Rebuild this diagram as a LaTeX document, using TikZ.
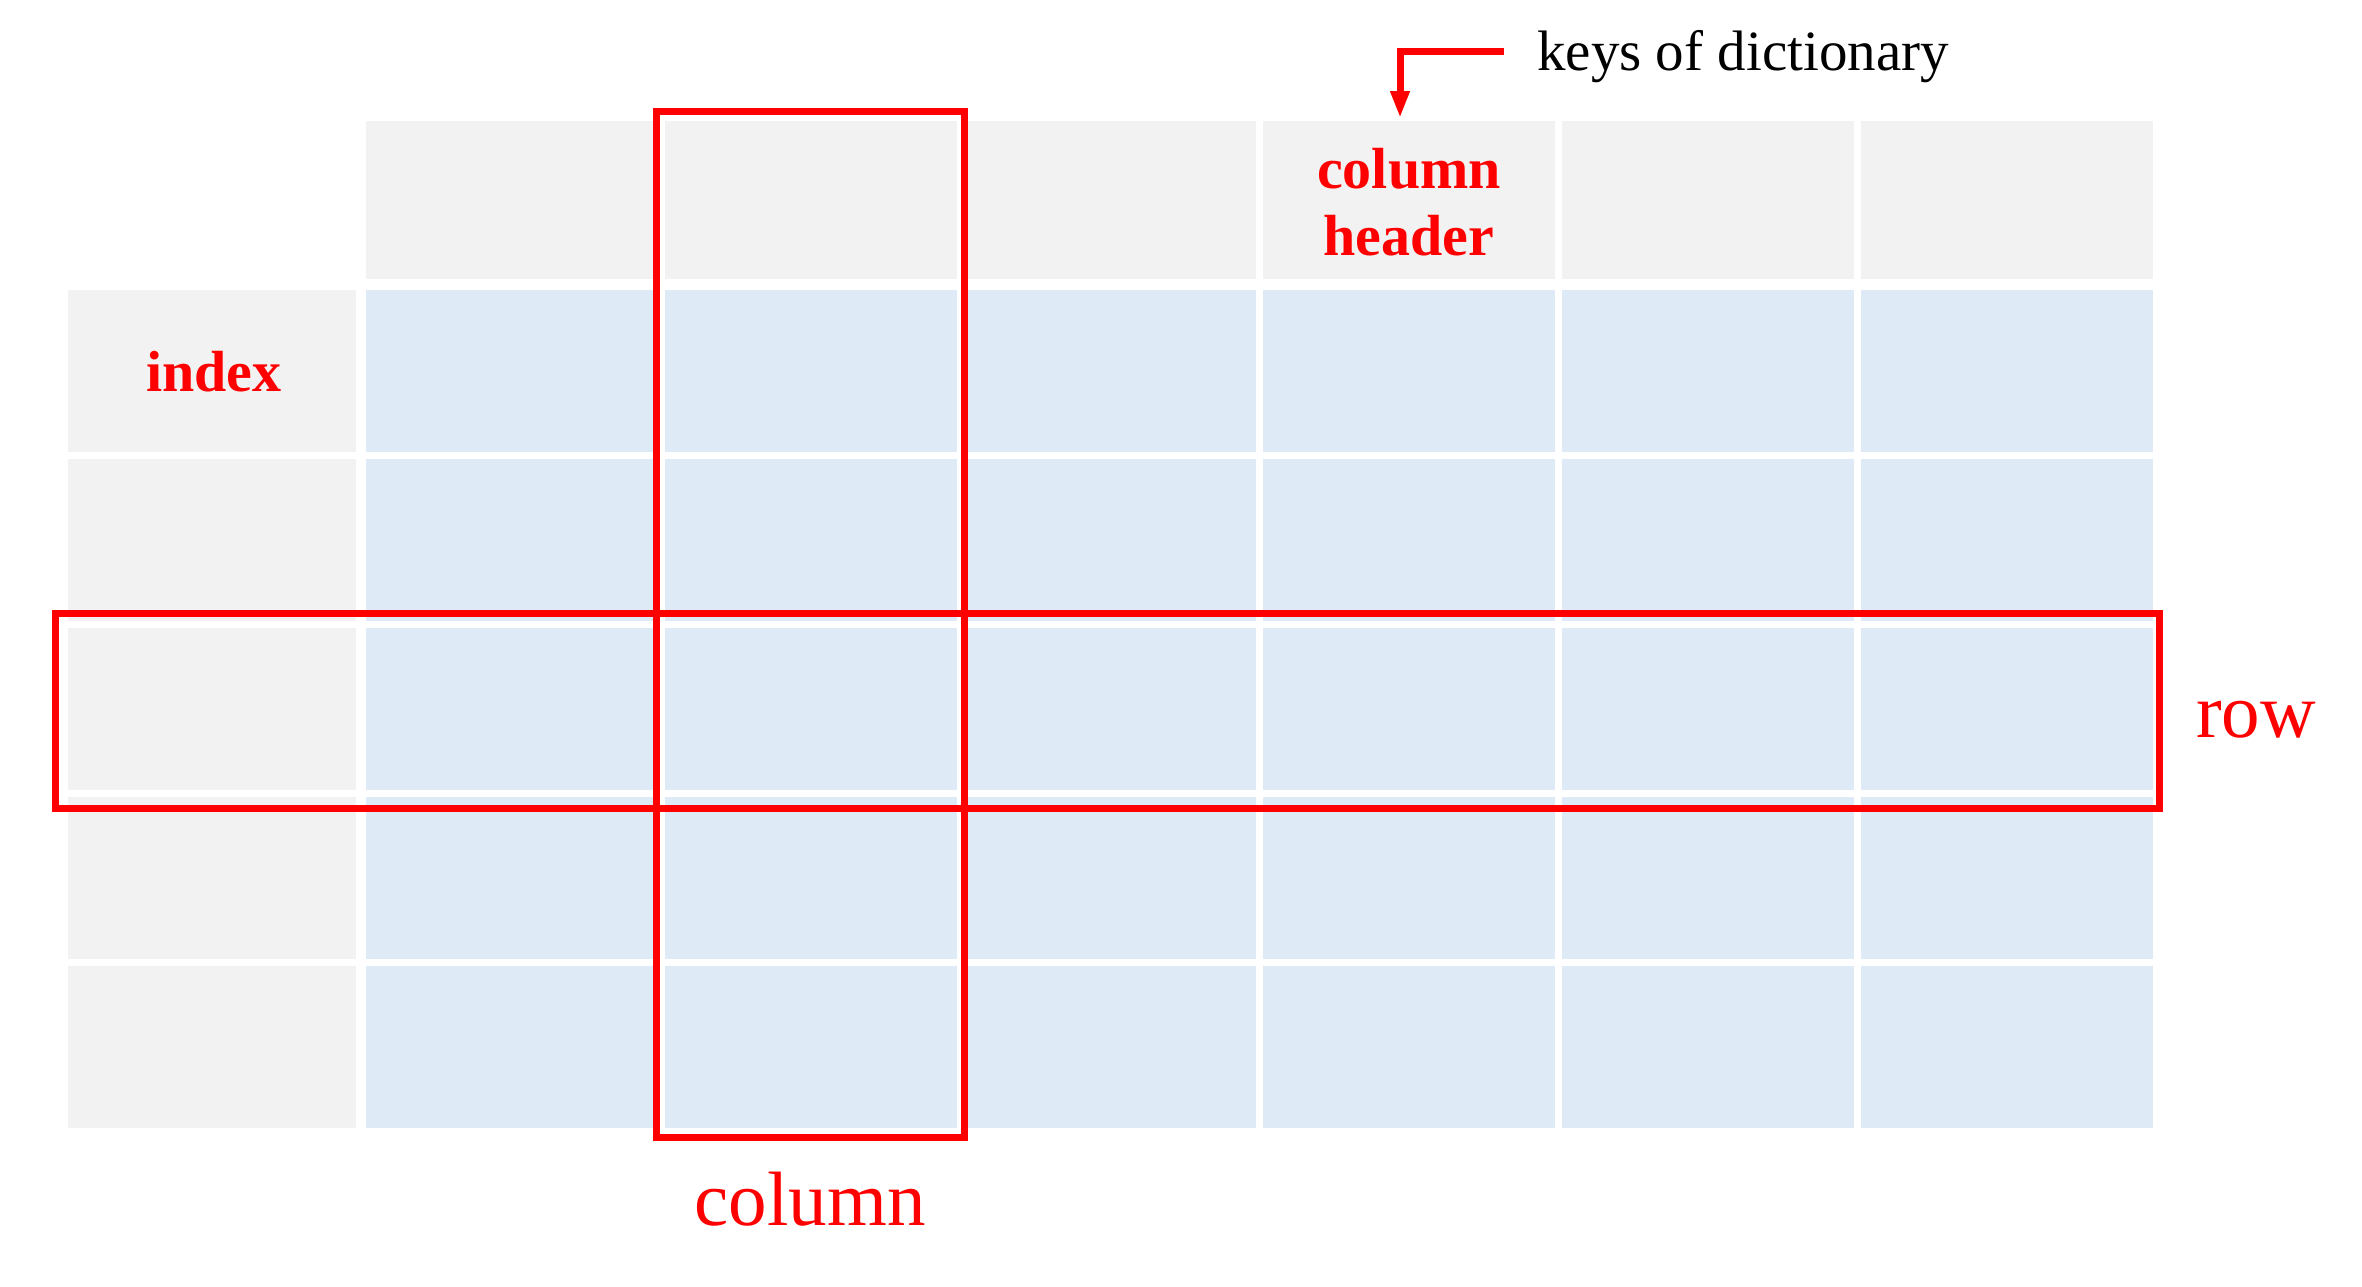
\documentclass[tikz,border=0pt]{standalone}
\usepackage{fontspec}
\setmainfont{Liberation Serif}
\usetikzlibrary{arrows.meta}
\definecolor{hdrgray}{HTML}{F2F2F2}
\definecolor{cellblue}{HTML}{DEEAF6}
\definecolor{markred}{HTML}{FF0000}
\begin{document}
\begin{tikzpicture}[x=1pt,y=-1pt,
  cellbox/.style={rectangle,inner sep=0pt,outer sep=0pt,draw=none,minimum width=292pt,minimum height=162pt},
  hdrcell/.style={cellbox,fill=hdrgray,minimum height=158pt},
  idxcell/.style={cellbox,fill=hdrgray,minimum width=288pt},
  datacell/.style={cellbox,fill=cellblue},
  redbox/.style={draw=markred,line width=7pt},
  boldlbl/.style={text=markred,font=\bfseries\fontsize{58}{60}\selectfont,inner sep=0pt,anchor=base},
  biglbl/.style={text=markred,font=\fontsize{77}{80}\selectfont,inner sep=0pt,anchor=base},
  notelbl/.style={text=black,font=\fontsize{57}{60}\selectfont,inner sep=0pt,anchor=base west},
  keyarrow/.style={draw=markred,line width=7pt,-{Triangle[length=27pt,width=18pt]}}]
\fill[white] (0,0) rectangle (2362,1286);
\useasboundingbox (0,0) rectangle (2362,1286);
% header cells
\foreach \k in {1,...,6} {
  \node[hdrcell] (h\k) at ({512+299*(\k-1)},200) {};
}
% index and data cells
\foreach \r in {1,...,5} {
  \node[idxcell] (i\r) at (212,{371+169*(\r-1)}) {};
  \foreach \k in {1,...,6} {
    \node[datacell] (c\r\k) at ({512+299*(\k-1)},{371+169*(\r-1)}) {};
  }
}
% red highlight boxes
\draw[redbox] (656.5,111.7) rectangle (964.5,1137.5);
\draw[redbox] (55,613.5) rectangle (2159.5,808.5);
% labels
\node[boldlbl] (idxlbl) at (214,391) {index};
\node[boldlbl] (hdrA) at (1409,188) {column};
\node[boldlbl] (hdrB) at (1409,255) {header};
\node[biglbl] (collbl) at (810,1225) {column};
\node[biglbl] (rowlbl) at (2256,737) {row};
\node[notelbl] (keys) at (1537,70) {keys of dictionary};
% arrow
\coordinate (kstart) at (1504,51);
\draw[keyarrow] (kstart) -| ([xshift=-9pt,yshift=3pt]h4.north);
\end{tikzpicture}
\end{document}
